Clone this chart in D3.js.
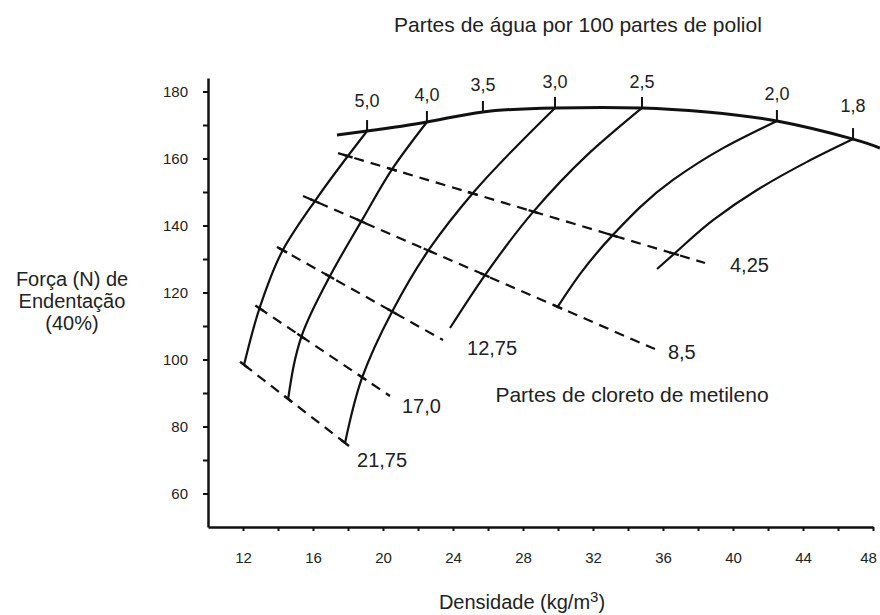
<!DOCTYPE html>
<html lang="pt">
<head>
<meta charset="utf-8">
<title>Força de endentação x densidade</title>
<script src="https://cdn.jsdelivr.net/npm/d3@7"></script>
<style>
  body { margin: 0; background: #fff; }
  svg { display: block; font-family: "Liberation Sans", Arial, sans-serif; }
</style>
</head>
<body>
<div id="chart"></div>
<script>
// all points are [densidade kg/m3, força N]

// upper envelope (bold line)
const envelope = [[17.37,167.0],[19.09,168.2],[22.51,170.9],[25.71,173.9],[29.83,175.1],
  [34.80,175.1],[38.51,173.9],[42.51,171.2],[46.86,165.8],[48.40,163.1]];

// water levels marked on the envelope
const waterLabels = ["5,0","4,0","3,5","3,0","2,5","2,0","1,8"];
const waterTop = [[19.09,168.2],[22.51,170.9],[25.71,173.9],[29.83,175.1],[34.80,175.1],[42.51,171.2],[46.86,165.8]];

// water curves, top to bottom
const curve5_0 = [[19.09,168.2],[16.23,148.2],[14.25,132.4],[12.97,115.7],[12.06,98.4]];
const curve4_0 = [[22.51,170.9],[20.57,157.2],[18.80,141.6],[16.97,124.9],[15.37,107.3],[14.57,87.9]];
const curve3_0 = [[29.83,175.1],[25.14,149.7],[22.69,133.3],[20.51,114.2],[18.80,94.5],[17.83,75.1]];
const curve2_5 = [[34.80,175.1],[31.66,161.0],[28.57,144.0],[25.83,125.2],[23.83,109.4]];
const curve2_0 = [[42.51,171.2],[39.43,163.1],[36.57,153.6],[33.14,137.2],[31.43,126.7],[29.94,115.4]];
const curve1_8 = [[46.86,165.8],[44.23,159.0],[41.37,150.6],[38.86,141.6],[36.69,131.8],[35.66,127.0]];
const waterCurves = [curve5_0, curve4_0, curve3_0, curve2_5, curve2_0, curve1_8];

// methylene chloride lines (dashed)
const chlorideLabels = ["4,25","8,5","12,75","17,0","21,75"];
const chlorideStart = [[17.43,161.6],[15.43,148.8],[13.94,133.6],[12.91,115.4],[12.06,98.4]];
const chlorideEnd = [[38.40,128.8],[35.54,103.1],[23.43,105.8],[20.40,89.1],[17.83,75.1]];

// axis ticks
const xTicks = d3.range(12, 49, 2);
const yTicks = d3.range(60, 181, 10);

// layout only
const chlorideLabelOffset = [[25,9],[13,10],[24,15],[12,17],[12,24]];
const waterLabelOffset = [-24,-21,-21,-20,-20,-21,-27];

const width = 880, height = 615;
const x = d3.scaleLinear().domain([10, 48]).range([208, 873]);
const y = d3.scaleLinear().domain([50, 184]).range([527, 78.1]);

const svg = d3.select("#chart").append("svg")
    .attr("width", width)
    .attr("height", height)
    .attr("viewBox", [0, 0, width, height]);

// axes
const yAxis = svg.append("g")
    .attr("transform", `translate(${x(10)},0)`)
    .call(d3.axisLeft(y).tickValues(yTicks).tickSize(5).tickSizeOuter(0).tickPadding(15)
      .tickFormat(d => d % 20 === 0 ? d : ""));
const xAxis = svg.append("g")
    .attr("transform", `translate(0,${y(50)})`)
    .call(d3.axisBottom(x).tickValues(xTicks).tickSize(4).tickSizeOuter(0).tickPadding(21)
      .tickFormat(d => d % 4 === 0 ? d : ""));
[yAxis, xAxis].forEach(g => {
  g.select(".domain").attr("stroke", "#111").attr("stroke-width", 2.5);
  g.selectAll(".tick line").attr("stroke", "#111").attr("stroke-width", 2);
  g.selectAll("text").attr("font-size", 15).attr("fill", "#222")
    .attr("font-family", "'Liberation Sans', Arial, sans-serif");
});
// last label sits against the page edge
xAxis.selectAll(".tick text").filter(d => d === 48).attr("dx", -5);

const envLine = d3.line().x(d => x(d[0])).y(d => y(d[1])).curve(d3.curveNatural);
const line = d3.line().x(d => x(d[0])).y(d => y(d[1])).curve(d3.curveMonotoneY);

// envelope
svg.append("path")
    .attr("d", envLine(envelope))
    .attr("fill", "none").attr("stroke", "#111").attr("stroke-width", 3);

// ticks + labels on the envelope
svg.append("g").selectAll("line")
  .data(waterTop)
  .join("line")
    .attr("x1", d => x(d[0])).attr("x2", d => x(d[0]))
    .attr("y1", d => y(d[1]) + 1).attr("y2", d => y(d[1]) - 11)
    .attr("stroke", "#111").attr("stroke-width", 2);
svg.append("g").selectAll("text")
  .data(waterTop)
  .join("text")
    .attr("x", d => x(d[0]))
    .attr("y", (d, i) => y(d[1]) + waterLabelOffset[i])
    .attr("text-anchor", "middle")
    .attr("font-size", 18)
    .attr("fill", "#222")
    .text((d, i) => waterLabels[i]);

// water curves
const curvePaths = svg.append("g").selectAll("path")
  .data(waterCurves)
  .join("path")
    .attr("d", line)
    .attr("fill", "none").attr("stroke", "#111").attr("stroke-width", 2.2);

// dashed lines
const dashed = chlorideStart.map((s, i) => [s, chlorideEnd[i]]);
svg.append("g").selectAll("line")
  .data(dashed)
  .join("line")
    .attr("x1", d => x(d[0][0])).attr("y1", d => y(d[0][1]))
    .attr("x2", d => x(d[1][0])).attr("y2", d => y(d[1][1]))
    .attr("stroke", "#111").attr("stroke-width", 2.2)
    .attr("stroke-dasharray", "10,7");

svg.append("g").selectAll("text")
  .data(chlorideEnd)
  .join("text")
    .attr("x", (d, i) => x(d[0]) + chlorideLabelOffset[i][0])
    .attr("y", (d, i) => y(d[1]) + chlorideLabelOffset[i][1])
    .attr("font-size", 20)
    .attr("fill", "#222")
    .text((d, i) => chlorideLabels[i]);

// small marks where dashed lines meet the drawn water curves
function segInt(p1, p2, p3, p4, tol) {
  const den = (p2[0]-p1[0])*(p4[1]-p3[1]) - (p2[1]-p1[1])*(p4[0]-p3[0]);
  if (Math.abs(den) < 1e-9) return null;
  const t = ((p3[0]-p1[0])*(p4[1]-p3[1]) - (p3[1]-p1[1])*(p4[0]-p3[0])) / den;
  const u = ((p3[0]-p1[0])*(p2[1]-p1[1]) - (p3[1]-p1[1])*(p2[0]-p1[0])) / den;
  if (t < -0.02 || t > 1.02 || u < -tol || u > 1 + tol) return null;
  return [p1[0] + t*(p2[0]-p1[0]), p1[1] + t*(p2[1]-p1[1])];
}
const sampled = curvePaths.nodes().map(node => {
  const L = node.getTotalLength(), n = 120;
  return d3.range(n + 1).map(k => {
    const p = node.getPointAtLength(L * k / n);
    return [p.x, p.y];
  });
});
const marks = [];
dashed.forEach(seg => {
  const a = [x(seg[0][0]), y(seg[0][1])], b = [x(seg[1][0]), y(seg[1][1])];
  const len = Math.hypot(b[0]-a[0], b[1]-a[1]);
  const ux = (b[0]-a[0]) / len, uy = (b[1]-a[1]) / len;
  sampled.forEach(pts => {
    for (let k = 0; k < pts.length - 1; k++) {
      const tol = (k === 0 || k === pts.length - 2) ? 1.5 : 0.01;
      const p = segInt(a, b, pts[k], pts[k+1], tol);
      if (p && !marks.some(m => Math.hypot(m.x - p[0], m.y - p[1]) < 5))
        marks.push({x: p[0], y: p[1], ux, uy});
    }
  });
});
svg.append("g").selectAll("line")
  .data(marks)
  .join("line")
    .attr("x1", d => d.x - 5*d.ux).attr("y1", d => d.y - 5*d.uy)
    .attr("x2", d => d.x + 5*d.ux).attr("y2", d => d.y + 5*d.uy)
    .attr("stroke", "#111").attr("stroke-width", 2.4);

// titles
svg.append("text")
    .attr("x", 578).attr("y", 32)
    .attr("text-anchor", "middle").attr("font-size", 21).attr("fill", "#222")
    .text("Partes de água por 100 partes de poliol");

svg.append("text")
    .attr("x", 632).attr("y", 402)
    .attr("text-anchor", "middle").attr("font-size", 21).attr("fill", "#222")
    .text("Partes de cloreto de metileno");

svg.append("text")
    .attr("text-anchor", "middle").attr("font-size", 20).attr("fill", "#222")
  .selectAll("tspan")
  .data(["Força (N) de", "Endentação", "(40%)"])
  .join("tspan")
    .attr("x", 72)
    .attr("y", (d, i) => 286 + i * 22)
    .text(d => d);

const xt = svg.append("text")
    .attr("x", 522).attr("y", 609)
    .attr("text-anchor", "middle").attr("font-size", 20).attr("fill", "#222");
xt.append("tspan").text("Densidade (kg/m");
xt.append("tspan").attr("dy", -7).attr("font-size", 15).text("3");
xt.append("tspan").attr("dy", 7).text(")");
</script>
</body>
</html>
